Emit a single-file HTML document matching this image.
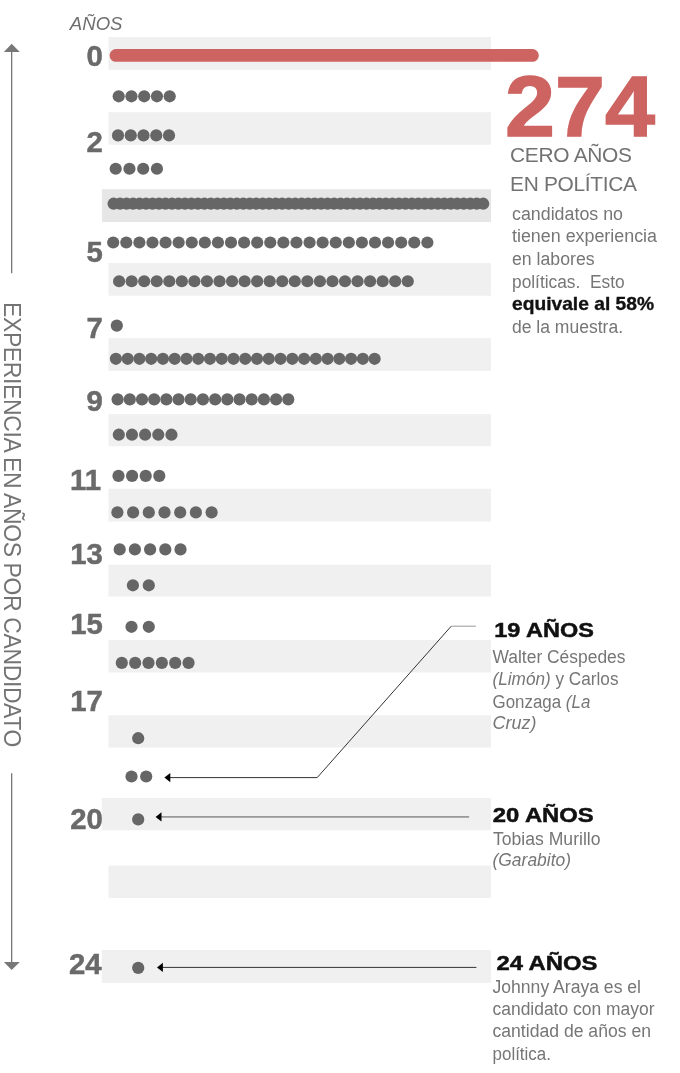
<!DOCTYPE html>
<html lang="es">
<head>
<meta charset="utf-8">
<title>Experiencia en años por candidato</title>
<style>
html,body{margin:0;padding:0;background:#fff;}
body{width:680px;height:1073px;overflow:hidden;font-family:"Liberation Sans",sans-serif;}
svg{display:block;}
text{font-family:"Liberation Sans",sans-serif;}
.num{font-weight:bold;font-size:29.3px;fill:#6a6a6a;stroke:#6a6a6a;stroke-width:0.5px;text-anchor:end;}
.body{font-size:18px;fill:#767676;}
.head{font-weight:bold;font-size:20.8px;fill:#111;stroke:#111;stroke-width:0.5px;}
.it{font-style:italic;}
</style>
</head>
<body>
<svg width="680" height="1073" viewBox="0 0 680 1073">

<g id="bands">
<rect x="108.5" y="37.0" width="382.5" height="32.8" fill="#f0f0f0"/>
<rect x="108.5" y="112.2" width="382.5" height="32.6" fill="#f0f0f0"/>
<rect x="101.9" y="189.2" width="389.1" height="32.8" fill="#e6e6e6"/>
<rect x="108.5" y="263.1" width="382.5" height="32.6" fill="#f0f0f0"/>
<rect x="108.5" y="338.2" width="382.5" height="32.7" fill="#f0f0f0"/>
<rect x="108.5" y="414.1" width="382.5" height="32.1" fill="#f0f0f0"/>
<rect x="108.5" y="488.8" width="382.5" height="32.7" fill="#f0f0f0"/>
<rect x="108.5" y="564.7" width="382.5" height="31.8" fill="#f0f0f0"/>
<rect x="108.5" y="640.0" width="382.5" height="32.4" fill="#f0f0f0"/>
<rect x="108.5" y="715.3" width="382.5" height="32.3" fill="#f0f0f0"/>
<rect x="101.8" y="797.9" width="389.2" height="32.4" fill="#f0f0f0"/>
<rect x="108.5" y="865.6" width="382.5" height="32.4" fill="#f0f0f0"/>
<rect x="101.8" y="950.0" width="389.2" height="32.9" fill="#f0f0f0"/>
</g>
<rect x="109.6" y="49.1" width="429.2" height="12.7" rx="6.35" fill="#cd6461"/>
<g id="dots" fill="#666">
<circle cx="118.70" cy="96.3" r="6.1"/>
<circle cx="131.45" cy="96.3" r="6.1"/>
<circle cx="144.20" cy="96.3" r="6.1"/>
<circle cx="156.95" cy="96.3" r="6.1"/>
<circle cx="169.70" cy="96.3" r="6.1"/>
<circle cx="118.00" cy="135.4" r="6.1"/>
<circle cx="130.75" cy="135.4" r="6.1"/>
<circle cx="143.50" cy="135.4" r="6.1"/>
<circle cx="156.25" cy="135.4" r="6.1"/>
<circle cx="169.00" cy="135.4" r="6.1"/>
<circle cx="115.70" cy="168.75" r="6.1"/>
<circle cx="129.45" cy="168.75" r="6.1"/>
<circle cx="143.20" cy="168.75" r="6.1"/>
<circle cx="156.95" cy="168.75" r="6.1"/>
<circle cx="113.60" cy="203.7" r="6.1"/>
<circle cx="120.08" cy="203.7" r="6.1"/>
<circle cx="126.57" cy="203.7" r="6.1"/>
<circle cx="133.05" cy="203.7" r="6.1"/>
<circle cx="139.54" cy="203.7" r="6.1"/>
<circle cx="146.02" cy="203.7" r="6.1"/>
<circle cx="152.50" cy="203.7" r="6.1"/>
<circle cx="158.99" cy="203.7" r="6.1"/>
<circle cx="165.47" cy="203.7" r="6.1"/>
<circle cx="171.96" cy="203.7" r="6.1"/>
<circle cx="178.44" cy="203.7" r="6.1"/>
<circle cx="184.92" cy="203.7" r="6.1"/>
<circle cx="191.41" cy="203.7" r="6.1"/>
<circle cx="197.89" cy="203.7" r="6.1"/>
<circle cx="204.38" cy="203.7" r="6.1"/>
<circle cx="210.86" cy="203.7" r="6.1"/>
<circle cx="217.34" cy="203.7" r="6.1"/>
<circle cx="223.83" cy="203.7" r="6.1"/>
<circle cx="230.31" cy="203.7" r="6.1"/>
<circle cx="236.80" cy="203.7" r="6.1"/>
<circle cx="243.28" cy="203.7" r="6.1"/>
<circle cx="249.76" cy="203.7" r="6.1"/>
<circle cx="256.25" cy="203.7" r="6.1"/>
<circle cx="262.73" cy="203.7" r="6.1"/>
<circle cx="269.22" cy="203.7" r="6.1"/>
<circle cx="275.70" cy="203.7" r="6.1"/>
<circle cx="282.18" cy="203.7" r="6.1"/>
<circle cx="288.67" cy="203.7" r="6.1"/>
<circle cx="295.15" cy="203.7" r="6.1"/>
<circle cx="301.64" cy="203.7" r="6.1"/>
<circle cx="308.12" cy="203.7" r="6.1"/>
<circle cx="314.60" cy="203.7" r="6.1"/>
<circle cx="321.09" cy="203.7" r="6.1"/>
<circle cx="327.57" cy="203.7" r="6.1"/>
<circle cx="334.06" cy="203.7" r="6.1"/>
<circle cx="340.54" cy="203.7" r="6.1"/>
<circle cx="347.02" cy="203.7" r="6.1"/>
<circle cx="353.51" cy="203.7" r="6.1"/>
<circle cx="359.99" cy="203.7" r="6.1"/>
<circle cx="366.48" cy="203.7" r="6.1"/>
<circle cx="372.96" cy="203.7" r="6.1"/>
<circle cx="379.44" cy="203.7" r="6.1"/>
<circle cx="385.93" cy="203.7" r="6.1"/>
<circle cx="392.41" cy="203.7" r="6.1"/>
<circle cx="398.90" cy="203.7" r="6.1"/>
<circle cx="405.38" cy="203.7" r="6.1"/>
<circle cx="411.86" cy="203.7" r="6.1"/>
<circle cx="418.35" cy="203.7" r="6.1"/>
<circle cx="424.83" cy="203.7" r="6.1"/>
<circle cx="431.32" cy="203.7" r="6.1"/>
<circle cx="437.80" cy="203.7" r="6.1"/>
<circle cx="444.28" cy="203.7" r="6.1"/>
<circle cx="450.77" cy="203.7" r="6.1"/>
<circle cx="457.25" cy="203.7" r="6.1"/>
<circle cx="463.74" cy="203.7" r="6.1"/>
<circle cx="470.22" cy="203.7" r="6.1"/>
<circle cx="476.70" cy="203.7" r="6.1"/>
<circle cx="483.19" cy="203.7" r="6.1"/>
<circle cx="113.20" cy="242.5" r="6.1"/>
<circle cx="126.29" cy="242.5" r="6.1"/>
<circle cx="139.38" cy="242.5" r="6.1"/>
<circle cx="152.47" cy="242.5" r="6.1"/>
<circle cx="165.56" cy="242.5" r="6.1"/>
<circle cx="178.65" cy="242.5" r="6.1"/>
<circle cx="191.74" cy="242.5" r="6.1"/>
<circle cx="204.83" cy="242.5" r="6.1"/>
<circle cx="217.92" cy="242.5" r="6.1"/>
<circle cx="231.01" cy="242.5" r="6.1"/>
<circle cx="244.10" cy="242.5" r="6.1"/>
<circle cx="257.19" cy="242.5" r="6.1"/>
<circle cx="270.28" cy="242.5" r="6.1"/>
<circle cx="283.37" cy="242.5" r="6.1"/>
<circle cx="296.46" cy="242.5" r="6.1"/>
<circle cx="309.55" cy="242.5" r="6.1"/>
<circle cx="322.64" cy="242.5" r="6.1"/>
<circle cx="335.73" cy="242.5" r="6.1"/>
<circle cx="348.82" cy="242.5" r="6.1"/>
<circle cx="361.91" cy="242.5" r="6.1"/>
<circle cx="375.00" cy="242.5" r="6.1"/>
<circle cx="388.09" cy="242.5" r="6.1"/>
<circle cx="401.18" cy="242.5" r="6.1"/>
<circle cx="414.27" cy="242.5" r="6.1"/>
<circle cx="427.36" cy="242.5" r="6.1"/>
<circle cx="119.10" cy="281.25" r="6.1"/>
<circle cx="131.65" cy="281.25" r="6.1"/>
<circle cx="144.20" cy="281.25" r="6.1"/>
<circle cx="156.75" cy="281.25" r="6.1"/>
<circle cx="169.30" cy="281.25" r="6.1"/>
<circle cx="181.85" cy="281.25" r="6.1"/>
<circle cx="194.40" cy="281.25" r="6.1"/>
<circle cx="206.95" cy="281.25" r="6.1"/>
<circle cx="219.50" cy="281.25" r="6.1"/>
<circle cx="232.05" cy="281.25" r="6.1"/>
<circle cx="244.60" cy="281.25" r="6.1"/>
<circle cx="257.15" cy="281.25" r="6.1"/>
<circle cx="269.70" cy="281.25" r="6.1"/>
<circle cx="282.25" cy="281.25" r="6.1"/>
<circle cx="294.80" cy="281.25" r="6.1"/>
<circle cx="307.35" cy="281.25" r="6.1"/>
<circle cx="319.90" cy="281.25" r="6.1"/>
<circle cx="332.45" cy="281.25" r="6.1"/>
<circle cx="345.00" cy="281.25" r="6.1"/>
<circle cx="357.55" cy="281.25" r="6.1"/>
<circle cx="370.10" cy="281.25" r="6.1"/>
<circle cx="382.65" cy="281.25" r="6.1"/>
<circle cx="395.20" cy="281.25" r="6.1"/>
<circle cx="407.75" cy="281.25" r="6.1"/>
<circle cx="116.80" cy="325.6" r="6.1"/>
<circle cx="115.90" cy="358.8" r="6.1"/>
<circle cx="127.66" cy="358.8" r="6.1"/>
<circle cx="139.42" cy="358.8" r="6.1"/>
<circle cx="151.18" cy="358.8" r="6.1"/>
<circle cx="162.94" cy="358.8" r="6.1"/>
<circle cx="174.70" cy="358.8" r="6.1"/>
<circle cx="186.46" cy="358.8" r="6.1"/>
<circle cx="198.22" cy="358.8" r="6.1"/>
<circle cx="209.98" cy="358.8" r="6.1"/>
<circle cx="221.74" cy="358.8" r="6.1"/>
<circle cx="233.50" cy="358.8" r="6.1"/>
<circle cx="245.26" cy="358.8" r="6.1"/>
<circle cx="257.02" cy="358.8" r="6.1"/>
<circle cx="268.78" cy="358.8" r="6.1"/>
<circle cx="280.54" cy="358.8" r="6.1"/>
<circle cx="292.30" cy="358.8" r="6.1"/>
<circle cx="304.06" cy="358.8" r="6.1"/>
<circle cx="315.82" cy="358.8" r="6.1"/>
<circle cx="327.58" cy="358.8" r="6.1"/>
<circle cx="339.34" cy="358.8" r="6.1"/>
<circle cx="351.10" cy="358.8" r="6.1"/>
<circle cx="362.86" cy="358.8" r="6.1"/>
<circle cx="374.62" cy="358.8" r="6.1"/>
<circle cx="117.60" cy="399.4" r="6.1"/>
<circle cx="129.79" cy="399.4" r="6.1"/>
<circle cx="141.98" cy="399.4" r="6.1"/>
<circle cx="154.17" cy="399.4" r="6.1"/>
<circle cx="166.36" cy="399.4" r="6.1"/>
<circle cx="178.55" cy="399.4" r="6.1"/>
<circle cx="190.74" cy="399.4" r="6.1"/>
<circle cx="202.93" cy="399.4" r="6.1"/>
<circle cx="215.12" cy="399.4" r="6.1"/>
<circle cx="227.31" cy="399.4" r="6.1"/>
<circle cx="239.50" cy="399.4" r="6.1"/>
<circle cx="251.69" cy="399.4" r="6.1"/>
<circle cx="263.88" cy="399.4" r="6.1"/>
<circle cx="276.07" cy="399.4" r="6.1"/>
<circle cx="288.26" cy="399.4" r="6.1"/>
<circle cx="118.80" cy="434.7" r="6.1"/>
<circle cx="131.96" cy="434.7" r="6.1"/>
<circle cx="145.12" cy="434.7" r="6.1"/>
<circle cx="158.28" cy="434.7" r="6.1"/>
<circle cx="171.44" cy="434.7" r="6.1"/>
<circle cx="118.50" cy="475.9" r="6.1"/>
<circle cx="132.10" cy="475.9" r="6.1"/>
<circle cx="145.70" cy="475.9" r="6.1"/>
<circle cx="159.30" cy="475.9" r="6.1"/>
<circle cx="117.40" cy="512.4" r="6.1"/>
<circle cx="133.10" cy="512.4" r="6.1"/>
<circle cx="148.80" cy="512.4" r="6.1"/>
<circle cx="164.50" cy="512.4" r="6.1"/>
<circle cx="180.20" cy="512.4" r="6.1"/>
<circle cx="195.90" cy="512.4" r="6.1"/>
<circle cx="211.60" cy="512.4" r="6.1"/>
<circle cx="119.70" cy="549.4" r="6.1"/>
<circle cx="134.90" cy="549.4" r="6.1"/>
<circle cx="150.10" cy="549.4" r="6.1"/>
<circle cx="165.30" cy="549.4" r="6.1"/>
<circle cx="180.50" cy="549.4" r="6.1"/>
<circle cx="132.90" cy="585.3" r="6.1"/>
<circle cx="148.80" cy="585.3" r="6.1"/>
<circle cx="131.50" cy="626.8" r="6.1"/>
<circle cx="148.80" cy="626.8" r="6.1"/>
<circle cx="121.80" cy="662.9" r="6.1"/>
<circle cx="135.15" cy="662.9" r="6.1"/>
<circle cx="148.50" cy="662.9" r="6.1"/>
<circle cx="161.85" cy="662.9" r="6.1"/>
<circle cx="175.20" cy="662.9" r="6.1"/>
<circle cx="188.55" cy="662.9" r="6.1"/>
<circle cx="138.20" cy="738.2" r="6.1"/>
<circle cx="131.50" cy="776.5" r="6.1"/>
<circle cx="146.20" cy="776.5" r="6.1"/>
<circle cx="138.20" cy="819.4" r="6.1"/>
<circle cx="138.20" cy="967.9" r="6.1"/>
</g>
<g id="axis" stroke="#777" stroke-width="1.3" fill="#777">
<line x1="11.65" y1="51" x2="11.65" y2="273.3"/>
<line x1="11.65" y1="773.2" x2="11.65" y2="963"/>
<polygon points="11.65,43.8 19.8,51.9 3.9,51.9" stroke="none"/>
<polygon points="11.65,970.1 19.8,962 3.9,962" stroke="none"/>
</g>
<text transform="translate(3.9,302) rotate(90)" font-size="23" fill="#747474" textLength="445.5" lengthAdjust="spacing">EXPERIENCIA EN AÑOS POR CANDIDATO</text>
<text x="69.8" y="29.9" font-size="18.6" font-style="italic" fill="#6e6e6e">AÑOS</text>

<text class="num" x="102.9" y="66.1">0</text>
<text class="num" x="102.9" y="151.5">2</text>
<text class="num" x="102.9" y="262.2">5</text>
<text class="num" x="102.9" y="337.6">7</text>
<text class="num" x="102.9" y="411.4">9</text>
<text class="num" x="101.0" y="490.4">11</text>
<text class="num" x="102.9" y="564.3">13</text>
<text class="num" x="102.9" y="634.3">15</text>
<text class="num" x="102.9" y="711.4">17</text>
<text class="num" x="102.9" y="828.8">20</text>
<text class="num" x="101.6" y="973.6">24</text>
<g id="ann" fill="none">
<polyline points="170,777.6 317.2,777.6 451.2,626.2" stroke="#333" stroke-width="1"/>
<line x1="451.2" y1="626.2" x2="475.9" y2="626.2" stroke="#999" stroke-width="1"/>
<line x1="161" y1="816.9" x2="469.1" y2="816.9" stroke="#999" stroke-width="1.6"/>
<line x1="162" y1="967.4" x2="476.4" y2="967.4" stroke="#333" stroke-width="1"/>
<polygon points="164.4,777.6 170.3,772.9 170.3,782.3" fill="#000"/>
<polygon points="155.6,816.9 161.5,812.2 161.5,821.6" fill="#000"/>
<polygon points="157,967.4 162.9,962.7 162.9,972.1" fill="#000"/>
</g>

<text x="505" y="136.3" font-size="86" font-weight="bold" fill="#cd6461" stroke="#cd6461" stroke-width="1.4" textLength="150" lengthAdjust="spacingAndGlyphs">274</text>
<text x="510" y="161.6" font-size="20.9" fill="#727272" textLength="122" lengthAdjust="spacing">CERO AÑOS</text>
<text x="510" y="191.4" font-size="20.9" fill="#727272" textLength="127" lengthAdjust="spacing">EN POLÍTICA</text>
<text class="body" x="512" y="219.6" textLength="111" lengthAdjust="spacingAndGlyphs">candidatos no</text>
<text class="body" x="512" y="242.1" textLength="145" lengthAdjust="spacingAndGlyphs">tienen experiencia</text>
<text class="body" x="512" y="264.5" textLength="82.6" lengthAdjust="spacingAndGlyphs">en labores</text>
<text class="body" x="512" y="287.8" textLength="112.6" lengthAdjust="spacingAndGlyphs" xml:space="preserve">políticas.  Esto</text>
<text x="512" y="309.8" font-size="18.6" font-weight="bold" fill="#111" stroke="#111" stroke-width="0.35" textLength="142" lengthAdjust="spacingAndGlyphs" xml:space="preserve">equivale al 58%</text>
<text class="body" x="512" y="332.5" textLength="111" lengthAdjust="spacingAndGlyphs">de la muestra.</text>
<text class="head" x="494.3" y="637.3" textLength="99.5" lengthAdjust="spacingAndGlyphs">19 AÑOS</text>
<text class="body" x="492.5" y="662.7" textLength="133" lengthAdjust="spacingAndGlyphs">Walter Céspedes</text>
<text class="body" x="492.5" y="685.2" textLength="126" lengthAdjust="spacingAndGlyphs"><tspan class="it">(Limón)</tspan> y Carlos</text>
<text class="body" x="492.5" y="707.8" textLength="97.8" lengthAdjust="spacingAndGlyphs">Gonzaga <tspan class="it">(La</tspan></text>
<text class="body it" x="492.5" y="729.0" textLength="44" lengthAdjust="spacingAndGlyphs">Cruz)</text>
<text class="head" x="492.7" y="821.6" textLength="101" lengthAdjust="spacingAndGlyphs">20 AÑOS</text>
<text class="body" x="493" y="844.6" textLength="107.5" lengthAdjust="spacingAndGlyphs">Tobias Murillo</text>
<text class="body it" x="492.5" y="866.4" textLength="78.5" lengthAdjust="spacingAndGlyphs">(Garabito)</text>
<text class="head" x="496.4" y="970.3" textLength="101" lengthAdjust="spacingAndGlyphs">24 AÑOS</text>
<text class="body" x="492.5" y="992.6" textLength="148.5" lengthAdjust="spacingAndGlyphs">Johnny Araya es el</text>
<text class="body" x="492.5" y="1015.2" textLength="162" lengthAdjust="spacingAndGlyphs">candidato con mayor</text>
<text class="body" x="492.5" y="1037.4" textLength="158.5" lengthAdjust="spacingAndGlyphs">cantidad de años en</text>
<text class="body" x="492.5" y="1059.7" textLength="58.5" lengthAdjust="spacingAndGlyphs">política.</text>
</svg>
</body>
</html>
